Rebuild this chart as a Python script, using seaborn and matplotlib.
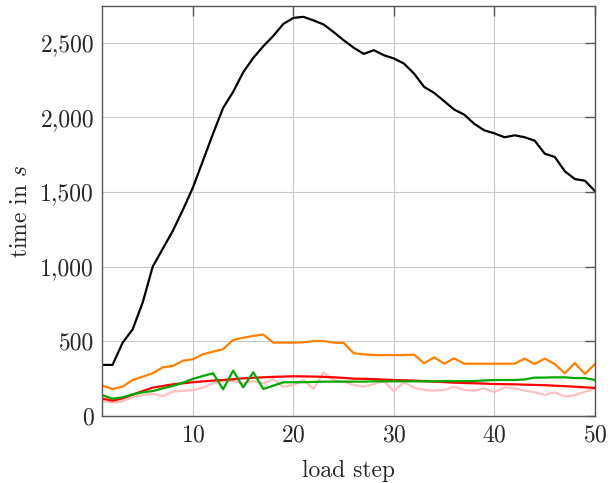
import numpy as np
import pandas as pd
import matplotlib.pyplot as plt
import seaborn as sns
from matplotlib.ticker import FuncFormatter, MultipleLocator

# load steps 1..50
steps = list(range(1, 51))

black_vals = [342, 342, 490, 580, 760, 1000, 1120, 1240, 1380, 1530,
              1710, 1890, 2062, 2170, 2301, 2397, 2475, 2545, 2625, 2665,
              2672, 2648, 2621, 2570, 2515, 2465, 2424, 2449, 2415, 2393,
              2359, 2292, 2203, 2163, 2107, 2051, 2017, 1955, 1912, 1892,
              1866, 1879, 1866, 1843, 1756, 1734, 1638, 1586, 1575, 1505]

orange_vals = [203, 181, 196, 241, 263, 286, 326, 335, 370, 380,
               413, 431, 447, 509, 524, 536, 545, 491, 491, 491,
               493, 502, 502, 491, 489, 420, 413, 408, 408, 408,
               408, 411, 353, 393, 350, 386, 350, 350, 350, 350,
               350, 350, 384, 348, 384, 348, 286, 355, 281, 348]

red_vals = [116, 103, 118, 143, 167, 190, 201, 212, 219, 226,
            232, 237, 241, 246, 252, 256, 259, 262, 264, 266,
            265, 264, 262, 259, 255, 250, 249, 247, 244, 241,
            239, 237, 233, 230, 227, 223, 221, 219, 217, 214,
            213, 212, 210, 208, 206, 203, 200, 196, 192, 188]

green_vals = [139, 116, 125, 145, 159, 167, 185, 201, 223, 248,
              268, 286, 179, 304, 192, 293, 181, 203, 226, 226,
              226, 228, 230, 230, 230, 230, 230, 232, 232, 232,
              232, 232, 232, 232, 234, 234, 234, 234, 238, 241,
              241, 241, 245, 257, 257, 259, 259, 254, 254, 241]

pink_vals = [100, 89, 98, 125, 141, 147, 134, 163, 170, 172,
             190, 219, 234, 234, 219, 234, 219, 246, 196, 208,
             241, 181, 293, 241, 230, 208, 196, 214, 234, 167,
             226, 190, 174, 170, 174, 196, 174, 170, 185, 159,
             192, 185, 170, 159, 141, 159, 130, 139, 163, 185]

series = ["black", "orange", "red", "green", "pink"]
colors = {"black": "#000000", "orange": "#ff8000", "red": "#ff0000",
          "green": "#00a800", "pink": "#ffbfbf"}

df = pd.DataFrame({
    "step": steps * 5,
    "time": black_vals + orange_vals + red_vals + green_vals + pink_vals,
    "run": sum([[s] * len(steps) for s in series], []),
})

sns.set_theme(style="white")
plt.rcParams["font.family"] = ["cmr10", "DejaVu Serif"]
plt.rcParams["mathtext.fontset"] = "cm"
plt.rcParams["axes.formatter.use_mathtext"] = True

fig = plt.figure(figsize=(6.1, 4.83), dpi=100)
ax = fig.add_axes([0.168, 0.1387, 0.8074, 0.849])

# draw pink first so it sits underneath
order = ["pink", "black", "orange", "red", "green"]
for s in order:
    sns.lineplot(data=df[df["run"] == s], x="step", y="time", color=colors[s],
                 linewidth=1.6, ax=ax, legend=False, sort=False)

ax.set_xlim(1, 50)
ax.set_ylim(0, 2745)
ax.xaxis.set_major_locator(MultipleLocator(10))
ax.yaxis.set_major_locator(MultipleLocator(500))
ax.yaxis.set_major_formatter(FuncFormatter(lambda v, p: f"{int(v):,}"))

ax.grid(True, color="#c8c8c8", linewidth=0.8)
ax.set_axisbelow(True)
for sp in ax.spines.values():
    sp.set_color("#555555")
    sp.set_linewidth(1.0)
ax.tick_params(direction="in", length=7, width=1.0, color="#555555",
               top=True, right=True, labelsize=17, pad=6)
ax.set_xlabel("load step", fontsize=17, labelpad=10)
ax.set_ylabel("time in $s$", fontsize=17, labelpad=6)

fig.savefig("out.png", dpi=100)
